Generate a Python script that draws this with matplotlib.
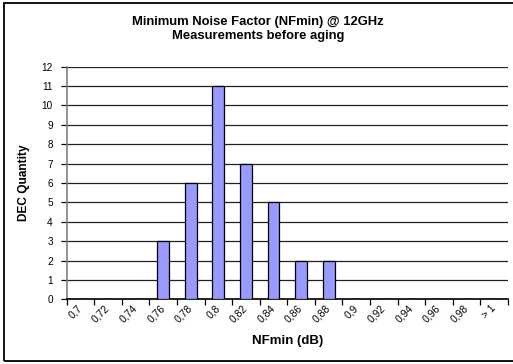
import numpy as np
import matplotlib.pyplot as plt
from matplotlib.patches import Rectangle

# histogram bins (NFmin in dB) and number of devices per bin
bins = ['0,7', '0,72', '0,74', '0,76', '0,78', '0,8', '0,82', '0,84',
        '0,86', '0,88', '0,9', '0,92', '0,94', '0,96', '0,98', '> 1']
counts = [0, 0, 0, 3, 6, 11, 7, 5, 2, 2, 0, 0, 0, 0, 0, 0]
yticks = list(range(0, 13))

plt.rcParams['font.family'] = ['Liberation Sans', 'DejaVu Sans']

fig = plt.figure(figsize=(5.13, 3.64), dpi=100)
fig.patch.set_facecolor('white')

ax = fig.add_axes([0.130, 0.1777, 0.860, 0.6391])
x = np.arange(len(bins))
ax.bar(x, counts, width=0.43, color='#9999ff', edgecolor='black',
       linewidth=0.9, zorder=3)

ax.set_xlim(-0.5, len(bins) - 0.5)
ax.set_ylim(0, 12)
ax.set_yticks(yticks)
ax.set_yticklabels([str(v) for v in yticks], fontsize=7.2)
ax.yaxis.grid(True, color='#222222', linewidth=0.9, zorder=0)

# ticks sit on the bin boundaries, labels on the bin centres
ax.set_xticks(np.arange(len(bins) + 1) - 0.5)
ax.set_xticklabels([])
ax.set_xticks(x, minor=True)
ax.set_xticklabels(bins, minor=True, fontsize=7.4, rotation=45,
                   ha='right', va='center', rotation_mode='anchor')
ax.tick_params(axis='x', which='minor', length=0, pad=5)
ax.tick_params(axis='x', which='major', length=4, width=0.9, direction='out')
ax.tick_params(axis='y', length=4, width=0.9, direction='out', pad=6)

for side in ('top', 'right'):
    ax.spines[side].set_visible(False)
ax.spines['left'].set_color('#808080')
ax.spines['left'].set_linewidth(1.2)
ax.spines['bottom'].set_linewidth(1.2)

ax.set_ylabel('DEC Quantity', fontsize=8.6, fontweight='bold', labelpad=8)
ax.set_xlabel('NFmin (dB)', fontsize=9.5, fontweight='bold', labelpad=8)

fig.text(0.503, 0.92, 'Minimum Noise Factor (NFmin) @ 12GHz\nMeasurements before aging',
         ha='center', va='center', fontsize=9.4, fontweight='bold',
         linespacing=1.25)

# chart frame
fig.patches.append(Rectangle((0.0075, 0.0096), 1.2, 0.9835, transform=fig.transFigure,
                             fill=False, edgecolor='black', linewidth=1.3))

fig.savefig('out.png', dpi=100)
